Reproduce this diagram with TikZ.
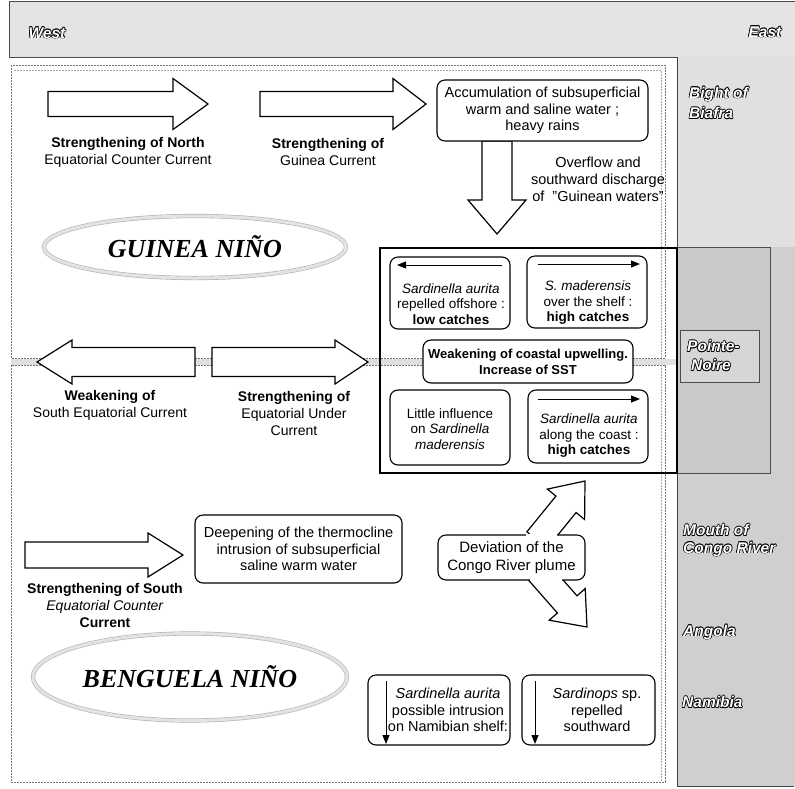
\documentclass[tikz,border=0pt]{standalone}
\usepackage{fontspec}
\setmainfont{Liberation Sans}
\newfontfamily\serifbi{Liberation Serif}
\usetikzlibrary{shapes.geometric,arrows.meta}
\newcommand{\shc}[3]{\makebox[0pt][l]{\hspace*{#1}\raisebox{#2}{\textcolor{black}{#3}}}}
\newcommand{\otext}[1]{\shc{0.7pt}{0pt}{#1}\shc{-0.7pt}{0pt}{#1}\shc{0pt}{0.7pt}{#1}\shc{0pt}{-0.7pt}{#1}\shc{0.5pt}{0.5pt}{#1}\shc{-0.5pt}{0.5pt}{#1}\shc{0.5pt}{-0.5pt}{#1}\shc{-0.5pt}{-0.5pt}{#1}\textcolor{white}{#1}}
\begin{document}
\begin{tikzpicture}[x=1pt,y=-1pt,
  barrow/.style={draw=black, fill=white, line width=1.2pt, line join=miter},
  rbox/.style={draw=black, fill=white, line width=1.1pt, rounded corners=8pt, inner sep=0pt, align=center},
  lbl/.style={font=\fontsize{14}{17}\selectfont, align=center, inner sep=0pt},
  btxt/.style={font=\fontsize{14.5}{16.5}\selectfont, align=center, inner sep=0pt},
  stxt/.style={font=\fontsize{13.5}{15.5}\selectfont, align=center, inner sep=0pt},
  farrow/.style={line width=1pt, -{Triangle[length=9pt,width=7pt]}},
  geo/.style={font=\fontsize{15.5}{18}\selectfont\bfseries\itshape, inner sep=0pt, anchor=west},
  frm/.style={draw=black!55, line width=0.6pt, dash pattern=on 2pt off 1pt},
  nino/.style={ellipse, draw=gray!60, double=gray!22, double distance=3pt, line width=0.6pt, font=\fontsize{26}{29}\selectfont\serifbi\bfseries\itshape, inner sep=0pt}
]
\fill[white] (0,0) rectangle (795,788);
\useasboundingbox (0,0) rectangle (795,788);
% top band and right column
\fill[gray!22] (9,1) rectangle (795,57);
\draw[black!70, line width=0.7pt] (795,1) -- (9,1) -- (9,57) -- (677,57);
\fill[gray!24] (677,57) rectangle (795,247);
\fill[gray!38] (677,247) rectangle (795,786);
\draw[black!75, line width=0.8pt] (677,57) -- (677,786) -- (794,786);
\draw[black!70, line width=0.8pt, fill=gray!42] (677,247) rectangle (770,473);
\draw[black!70, line width=0.7pt, fill=gray!32] (680,330) rectangle (759,382);
% frames
\draw[frm] (11,65) rectangle (665,358);
\draw[frm, draw=black!35] (14,70) -- (661,70) -- (661,358);
\draw[frm] (11,365) rectangle (665,782);
\draw[frm, draw=black!35] (661,365) -- (661,782);
\fill[gray!25] (11,358.5) rectangle (677,364.5);
% centre box
\draw[line width=1.2pt] (380,248) rectangle (677,473);

% Guinea part
\draw[barrow] (48,91.5) -- (173,91.5) -- (173,78.5) -- (208,104) -- (173,129.5) -- (173,116.5) -- (48,116.5) -- cycle;
\draw[barrow] (260,91.5) -- (393,91.5) -- (393,78.5) -- (426,104) -- (393,129.5) -- (393,116.5) -- (260,116.5) -- cycle;
\node[lbl] (necc) at (128,152) {\textbf{Strengthening of North}\\Equatorial Counter Current};
\node[lbl] (gc) at (328,152) {\textbf{Strengthening of}\\Guinea Current};
\draw[barrow] (482,141) -- (482,200) -- (468,200) -- (497,234) -- (526,200) -- (512,200) -- (512,141) -- cycle;
\node[rbox, btxt, minimum width=211pt, minimum height=61pt] (acc) at (542.5,110.5) {Accumulation of subsuperficial\\warm and saline water ;\\heavy rains};
\node[lbl, font=\fontsize{14.5}{17}\selectfont] (ovf) at (598,179) {Overflow and\\southward discharge\\of\ \ \symbol{34}Guinean waters\symbol{34}};
\node[nino, minimum width=302pt, minimum height=62pt] (gn) at (195,247) {GUINEA NIÑO};

\draw[barrow] (195,347.5) -- (72,347.5) -- (72,340) -- (37,362) -- (72,384) -- (72,376.5) -- (195,376.5) -- cycle;
\draw[barrow] (212,347.5) -- (335,347.5) -- (335,340) -- (368,362) -- (335,384) -- (335,376.5) -- (212,376.5) -- cycle;
\node[lbl] (sec) at (110,405) {\textbf{Weakening of}\\South Equatorial Current};
\node[lbl] (euc) at (294,413) {\textbf{Strengthening of}\\Equatorial Under\\Current};

% centre boxes
\node[rbox, minimum width=120pt, minimum height=72pt] (tl) at (450,293) {};
\draw[farrow] (502,265) -- (397,265);
\node[stxt] (tlt) at (451,304) {\textit{Sardinella aurita}\\repelled offshore :\\\textbf{low catches}};
\node[rbox, minimum width=120pt, minimum height=72pt] (tr) at (587,292) {};
\draw[farrow] (538,264) -- (640,264);
\node[stxt] (trt) at (588,303) {\textit{S. maderensis}\\over the shelf :\\\textbf{high catches}};
\node[rbox, minimum width=210pt, minimum height=43pt, font=\fontsize{13}{16}\selectfont\bfseries] (mid) at (528,361.5) {Weakening of coastal upwelling.\\Increase of SST};
\node[rbox, minimum width=120pt, minimum height=75pt] (bl) at (450,427.5) {};
\node[stxt] (blt) at (450,429) {Little influence\\on \textit{Sardinella}\\\textit{maderensis}};
\node[rbox, minimum width=120pt, minimum height=73pt] (br) at (588,426.5) {};
\draw[farrow] (538,399) -- (640,399);
\node[stxt] (brt) at (589,436) {\textit{Sardinella aurita}\\along the coast :\\\textbf{high catches}};

% Benguela part
\draw[barrow] (25,542) -- (148,542) -- (148,533) -- (183,555) -- (148,577) -- (148,568) -- (25,568) -- cycle;
\node[lbl] (secc) at (105,605) {\textbf{Strengthening of South}\\\textit{Equatorial Counter}\\\textbf{Current}};
\node[rbox, btxt, minimum width=207pt, minimum height=68pt] (deep) at (298.5,549) {Deepening of the thermocline\\intrusion of subsuperficial\\saline warm water};
\draw[barrow] (526.9,531.8) -- (555.9,496.1) -- (547.4,489.1) -- (585,481) -- (584.6,519.5) -- (576.1,512.5) -- (547.1,548.2) -- cycle;
\draw[barrow] (527.2,578.6) -- (557.4,613) -- (549.2,620.2) -- (587,627) -- (585.2,588.6) -- (577,595.8) -- (546.8,561.4) -- cycle;
\node[rbox, btxt, font=\fontsize{15}{18}\selectfont, minimum width=147pt, minimum height=45pt] (dev) at (511.5,557.5) {Deviation of the\\Congo River plume};
\draw[white, line width=1.8pt] (525.8,535) -- (556.6,535);
\draw[white, line width=1.8pt] (530,580) -- (561.6,580);
\node[nino, minimum width=314pt, minimum height=87pt] (bn) at (190,677) {BENGUELA NIÑO};
\node[rbox, minimum width=142pt, minimum height=70pt] (sa) at (439,710) {};
\draw[farrow] (386,681) -- (386,744);
\node[btxt] (sat) at (448,710) {\textit{Sardinella aurita}\\possible intrusion\\on Namibian shelf:};
\node[rbox, minimum width=133pt, minimum height=70pt] (sp) at (588.5,710) {};
\draw[farrow] (535,681) -- (535,744);
\node[btxt] (spt) at (597,710) {\textit{Sardinops} sp.\\repelled\\southward};

% geographic labels
\node[geo, anchor=center] (west) at (47,33) {\otext{West}};
\node[geo, anchor=center] (east) at (765,32) {\otext{East}};
\node[geo] (bight) at (689,94) {\otext{Bight of}};
\node[geo] (biafra) at (689,113) {\otext{Biafra}};
\node[geo] (pn1) at (687,346) {\otext{Pointe-}};
\node[geo] (pn2) at (691,365) {\otext{Noire}};
\node[geo] (mo1) at (683,530) {\otext{Mouth of}};
\node[geo] (mo2) at (683,549) {\otext{Congo River}};
\node[geo] (ang) at (683,632) {\otext{Angola}};
\node[geo] (nam) at (682,702) {\otext{Namibia}};
\end{tikzpicture}
\end{document}
